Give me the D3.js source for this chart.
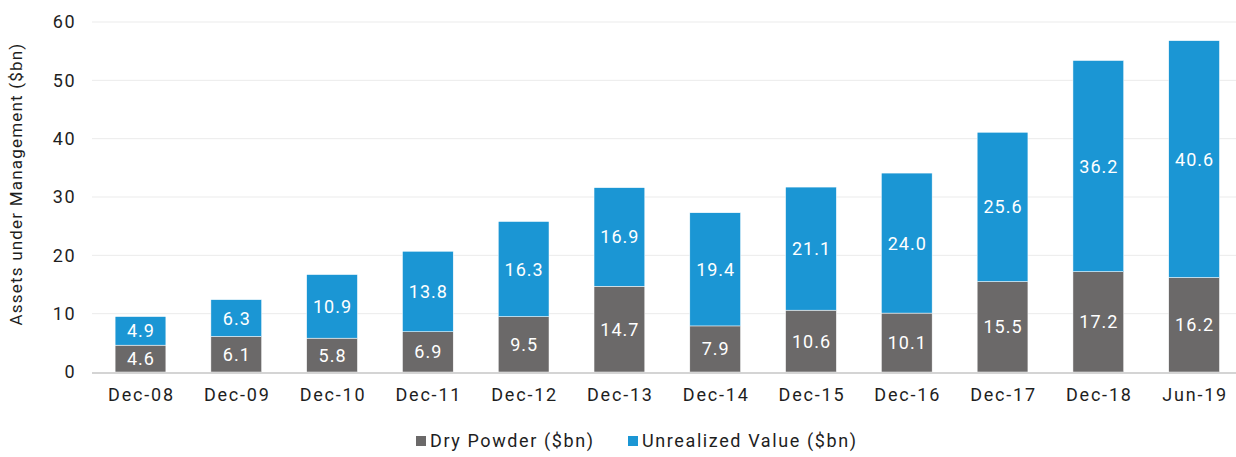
<!DOCTYPE html>
<html>
<head>
<meta charset="utf-8">
<script src="https://cdn.jsdelivr.net/npm/d3@7"></script>
<style>
  body { margin: 0; background: #fff; }
  svg text { font-family: Roboto, "Noto Sans", sans-serif; }
</style>
</head>
<body>
<div id="chart"></div>
<script>
const categories = ["Dec-08", "Dec-09", "Dec-10", "Dec-11", "Dec-12", "Dec-13", "Dec-14", "Dec-15", "Dec-16", "Dec-17", "Dec-18", "Jun-19"];
const dryPowder = [4.6, 6.1, 5.8, 6.9, 9.5, 14.7, 7.9, 10.6, 10.1, 15.5, 17.2, 16.2];
const unrealized = [4.9, 6.3, 10.9, 13.8, 16.3, 16.9, 19.4, 21.1, 24.0, 25.6, 36.2, 40.6];
const yTicks = [0, 10, 20, 30, 40, 50, 60];
const seriesNames = ["Dry Powder ($bn)", "Unrealized Value ($bn)"];
const colors = ["#6b6969", "#1b96d4"];

const width = 1236, height = 457;
const svg = d3.select("#chart").append("svg")
  .attr("width", width).attr("height", height);

const x = d3.scaleBand().domain(categories).range([92.6, 1242]).paddingInner(0.47).paddingOuter(0.235);
const y = d3.scaleLinear().domain([0, 60]).range([372, 22]);

// gridlines
svg.append("g").selectAll("line").data(yTicks.filter(d => d > 0)).enter()
  .append("line")
  .attr("x1", 92).attr("x2", width)
  .attr("y1", d => y(d)).attr("y2", d => y(d))
  .style("stroke", "#ebebeb").style("stroke-width", 1);

// y tick labels
svg.append("g").selectAll("text").data(yTicks).enter()
  .append("text")
  .attr("x", 76).attr("y", d => y(d))
  .attr("dy", "0.35em")
  .attr("text-anchor", "end")
  .style("font-size", "18px").style("letter-spacing", "1.5px").style("fill", "#1e1e1e")
  .text(d => d);

// y title
svg.append("text")
  .attr("transform", "translate(22,184) rotate(-90)")
  .attr("text-anchor", "middle")
  .style("font-size", "17px").style("letter-spacing", "1.2px").style("fill", "#1e1e1e")
  .text("Assets under Management ($bn)");

const rows = categories.map((c, i) => ({ cat: c, vals: [dryPowder[i], unrealized[i]] }));

rows.forEach(r => {
  let base = 0;
  r.vals.forEach((v, k) => {
    const y0 = base, y1 = base + v;
    svg.append("rect")
      .attr("x", x(r.cat)).attr("width", x.bandwidth())
      .attr("y", y(y1)).attr("height", y(y0) - y(y1))
      .style("fill", colors[k])
      .style("stroke", "#fff").style("stroke-width", 0.5);
    svg.append("text")
      .attr("x", x(r.cat) + x.bandwidth() / 2 + 0.5)
      .attr("y", (y(y0) + y(y1)) / 2)
      .attr("dy", "0.36em")
      .attr("text-anchor", "middle")
      .style("font-size", "18px").style("letter-spacing", "1px").style("fill", "#fff")
      .text(v.toFixed(1));
    base = y1;
  });
});

// baseline
svg.append("line")
  .attr("x1", 92).attr("x2", width)
  .attr("y1", y(0) + 1).attr("y2", y(0) + 1)
  .style("stroke", "#d4d4d4").style("stroke-width", 2);

// x labels
svg.append("g").selectAll("text").data(categories).enter()
  .append("text")
  .attr("x", d => x(d) + x.bandwidth() / 2 + 1)
  .attr("y", 401)
  .attr("text-anchor", "middle")
  .style("font-size", "18px").style("letter-spacing", "1.8px").style("fill", "#1e1e1e")
  .text(d => d);

// legend
const legendX = [416, 628];
seriesNames.forEach((n, k) => {
  svg.append("rect")
    .attr("x", legendX[k]).attr("y", 436)
    .attr("width", 10).attr("height", 10)
    .style("fill", colors[k]);
  svg.append("text")
    .attr("x", legendX[k] + 14).attr("y", 441)
    .attr("dy", "0.35em")
    .style("font-size", "18px").style("letter-spacing", "1.6px").style("fill", "#1e1e1e")
    .text(n);
});
</script>
</body>
</html>
